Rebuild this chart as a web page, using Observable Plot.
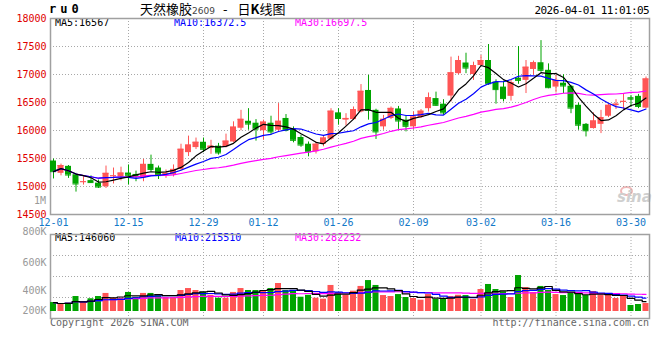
<!DOCTYPE html>
<html><head><meta charset="utf-8">
<script src="https://cdn.jsdelivr.net/npm/d3@7"></script>
<script src="https://cdn.jsdelivr.net/npm/@observablehq/plot@0.6"></script>
<style>
body{margin:0;background:#fff;}
#wrap{position:relative;width:660px;height:360px;overflow:hidden;background:#fff;font-family:"DejaVu Sans Mono",monospace;}
#wrap svg{position:absolute;left:0;top:0;}
.t{position:absolute;white-space:nowrap;font-size:10px;line-height:12px;font-family:"DejaVu Sans Mono",monospace;}
</style></head><body>
<div id="wrap">
  <div class="t" style="left:620px;top:186px;width:9px;height:6px;border:2px solid #f0b8b8;border-radius:50%;"></div>
  <div class="t" style="left:617px;top:189px;font-family:'DejaVu Sans';font-weight:bold;font-style:italic;font-size:15px;line-height:16px;color:#cfcfcf;">sina</div>
  <div class="t" style="left:49px;top:2px;font-weight:bold;font-size:12px;line-height:14px;letter-spacing:4px;color:#000;">ru0</div>
  <div class="t" style="left:140px;top:0px;font-family:'Noto Sans CJK SC';font-size:13px;line-height:17px;color:#000;">天然橡胶<span style="font-family:'DejaVu Sans';font-size:9px;color:#444;">2609</span><span style="display:inline-block;margin:0 10px 0 8px;">-</span>日<b>K</b>线图</div>
  <div class="t" style="right:11px;top:5px;font-size:11px;letter-spacing:-0.6px;color:#000;">2026-04-01 11:01:05</div>
  <div class="t" style="left:55px;top:17px;color:#000;">MA5:16567</div>
  <div class="t" style="left:174px;top:17px;color:#0000ff;">MA10:16372.5</div>
  <div class="t" style="left:295px;top:17px;color:#ff00ff;">MA30:16697.5</div>
  <div class="t" style="right:614px;top:195px;color:#999;">1M</div>
  <div class="t" style="left:55px;top:232px;color:#000;">MA5:146060</div>
  <div class="t" style="left:175px;top:232px;color:#0000ff;">MA10:215510</div>
  <div class="t" style="left:295px;top:232px;color:#ff00ff;">MA30:282232</div>
  <div class="t" style="left:50px;top:317px;color:#666;">Copyright 2026 SINA.COM</div>
  <div class="t" style="right:11px;top:317px;color:#666;">http://finance.sina.com.cn</div>
</div>
<script>
const dates = ["12-01","12-02","12-03","12-04","12-05","12-08","12-09","12-10","12-11","12-12",
"12-15","12-16","12-17","12-18","12-19","12-22","12-23","12-24","12-25","12-26",
"12-29","12-30","12-31","01-05","01-06","01-07","01-08","01-09","01-12","01-13",
"01-14","01-15","01-16","01-19","01-20","01-21","01-22","01-23","01-26","01-27",
"01-28","01-29","01-30","02-02","02-03","02-04","02-05","02-06","02-09","02-10",
"02-11","02-12","02-13","02-24","02-25","02-26","02-27","03-02","03-03","03-04",
"03-05","03-06","03-09","03-10","03-11","03-12","03-13","03-16","03-17","03-18",
"03-19","03-20","03-23","03-24","03-25","03-26","03-27","03-30","03-31","04-01"];

const opens = [15455,15235,15360,15210,15075,15105,15060,14995,15180,15170,
15240,15215,15155,15395,15330,15205,15205,15305,15605,15695,
15790,15680,15720,15710,15795,16040,16165,16130,15995,16130,
16005,16215,16020,15875,15755,15620,15755,15845,16315,16185,
16195,16330,16715,16360,16065,16215,16385,16185,16065,16230,
16390,16570,16470,16615,17015,17205,17000,17160,17250,16865,
16775,16610,16935,16895,17090,17210,17075,16775,16845,16790,
16450,16110,16035,16110,16255,16445,16505,16585,16610,16400];

const highs = [15490,15400,15375,15235,15175,15190,15115,15365,15330,15345,
15385,15275,15485,15560,15365,15295,15385,15755,15900,15865,
15865,15825,15770,15935,16155,16360,16390,16195,16185,16255,
16480,16285,16065,15915,15795,15795,15900,16390,16390,16300,
16420,16820,16985,16380,16270,16420,16430,16255,16330,16375,
16670,16685,16550,17310,17325,17380,17220,17340,17535,16905,
16880,16895,17500,17250,17240,17605,17190,16985,16995,16805,
16490,16125,16315,16360,16470,16550,16660,16625,16645,16955];

const lows = [15135,15190,15145,14900,15025,15055,14965,14965,15045,15100,
15025,15085,15085,15260,15125,15145,15170,15285,15535,15660,
15605,15575,15560,15690,15780,15995,16005,15810,15825,15915,
15975,15975,15780,15700,15530,15580,15710,15825,16095,16080,
16185,16315,16185,15840,16005,16195,16020,15975,16020,16215,
16330,16430,16270,16510,16995,17015,16895,17150,16805,16470,
16510,16525,16825,16660,16985,17040,16745,16670,16660,16300,
16005,15885,16025,15945,16230,16375,16375,16410,16390,16390];

const closes = [15265,15375,15205,15045,15085,15070,14990,15235,15190,15240,
15200,15175,15395,15305,15195,15235,15305,15665,15740,15790,
15665,15720,15600,15810,16060,16200,16115,16025,16150,15975,
16165,16005,15825,15740,15620,15755,15865,16345,16215,16215,
16375,16700,16360,15975,16200,16395,16170,16075,16240,16345,
16585,16450,16315,17030,17250,17115,17160,17250,16835,16730,
16570,16855,16895,17130,17210,17075,16765,16895,16795,16400,
16095,15995,16170,16230,16450,16470,16520,16560,16430,16920];

const volumes = [314000,300000,309000,357000,314000,341000,357000,379000,345000,345000,
386000,350000,379000,379000,362000,350000,350000,400000,414000,400000,
386000,366000,345000,345000,386000,414000,400000,400000,400000,414000,
450000,400000,400000,352000,366000,345000,338000,436000,386000,366000,
395000,429000,471000,436000,364000,357000,371000,350000,343000,331000,
371000,336000,336000,357000,366000,364000,336000,407000,443000,407000,
391000,350000,507000,421000,386000,429000,400000,371000,364000,379000,
371000,364000,393000,364000,364000,343000,357000,293000,300000,307000];

const labelDates = ["12-01","12-15","12-29","01-12","01-26","02-09","03-02","03-16","03-30"];
const priceTicks = [14500,15000,15500,16000,16500,17000,17500,18000];
const priceGrid = [15000,15500,16000,16500,17000,17500];
const volTicks = [800000,600000,400000,200000];
const volGrid = [350000,500000,650000];
const volBase = 250000;
const maPeriods = [30,10,5];
const maColors = {5:"#000000",10:"#0000ff",30:"#ff00ff"};

const RED = "#ff5555", GREEN = "#00a400", GRID = "#a8a8a8", FRAME = "#a0a0a0";

const candles = dates.map((d,i)=>({date:d, open:opens[i], high:highs[i], low:lows[i], close:closes[i], vol:volumes[i], up: closes[i] >= opens[i]}));
const col = d => d.up ? RED : GREEN;
const gridDates = labelDates.slice(1);

const xScale = {type:"band", domain:dates, range:[49.25,649.25], padding:0, round:false, axis:null};
const style = {background:"transparent", fontFamily:"DejaVu Sans Mono, monospace", fontSize:"10px", overflow:"visible"};
const wrap = document.getElementById("wrap");

const main = Plot.plot({
  width:660, height:360, marginTop:18, marginBottom:146, marginLeft:50, marginRight:11,
  style,
  x: xScale,
  y: {domain:[14500,18000], axis:null},
  color: {type:"identity"},
  marks: [
    Plot.gridY(priceGrid, {stroke:GRID, strokeOpacity:1, strokeDasharray:"1,2"}),
    Plot.gridX(gridDates, {stroke:GRID, strokeOpacity:1, strokeDasharray:"1,2"}),
    Plot.frame({stroke:FRAME, strokeWidth:1.5}),
    Plot.ruleX(candles, {x:"date", y1:"low", y2:"high", stroke:col, strokeWidth:1}),
    Plot.barY(candles, {x:"date", y1:"open", y2:"close", fill:col, insetLeft:0.75, insetRight:0.75}),
    Plot.tickY(candles, {x:"date", y:"close", stroke:col, insetLeft:0.75, insetRight:0.75}),
    ...maPeriods.map(k => Plot.lineY(candles, Plot.windowY({k, anchor:"end", reduce:"mean"}, {x:"date", y:"close", stroke:maColors[k], strokeWidth:1.2}))),
    Plot.axisY({ticks:priceTicks, tickSize:0, tickPadding:4, color:"#e00000", label:null, tickFormat:d=>String(d), fontSize:10}),
    Plot.axisX({ticks:labelDates, tickSize:0, tickPadding:4, color:"#1278c8", label:null, fontSize:10})
  ]
});
wrap.appendChild(main);

const vfmt = d => (d/1000) + "K";
const vol = Plot.plot({
  width:660, height:360, marginTop:234, marginBottom:42, marginLeft:50, marginRight:11,
  style,
  x: xScale,
  y: {domain:[200000,800000], axis:null},
  color: {type:"identity"},
  marks: [
    Plot.gridY(volGrid, {stroke:GRID, strokeOpacity:1, strokeDasharray:"1,2"}),
    Plot.gridX(gridDates, {stroke:GRID, strokeOpacity:1, strokeDasharray:"1,2"}),
    Plot.frame({stroke:FRAME, strokeWidth:1.5}),
    Plot.barY(candles, {x:"date", y1:volBase, y2:"vol", fill:col, insetLeft:0.75, insetRight:0.75}),
    ...maPeriods.map(k => Plot.lineY(candles, Plot.windowY({k, anchor:"end", reduce:"mean"}, {x:"date", y:"vol", stroke:maColors[k], strokeWidth:1.2, curve:"step"}))),
    Plot.text(volTicks.slice(0,1), {y:d=>d, frameAnchor:"left", dx:-4, dy:-3, textAnchor:"end", text:vfmt, fill:"#999", fontSize:10}),
    Plot.text(volTicks.slice(1,3), {y:d=>d, frameAnchor:"left", dx:-4, textAnchor:"end", text:vfmt, fill:"#999", fontSize:10}),
    Plot.text(volTicks.slice(3), {y:d=>d, frameAnchor:"left", dx:-4, dy:-8, textAnchor:"end", text:vfmt, fill:"#999", fontSize:10})
  ]
});
wrap.appendChild(vol);
</script>
</body></html>
